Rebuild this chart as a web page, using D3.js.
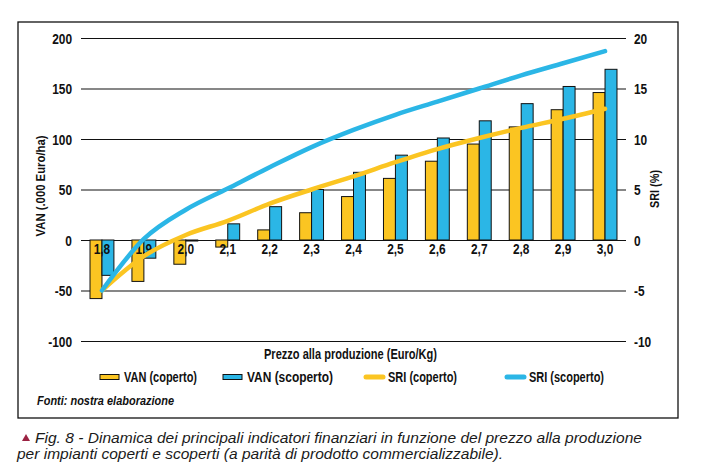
<!DOCTYPE html>
<html><head><meta charset="utf-8">
<script src="https://cdn.jsdelivr.net/npm/d3@7/dist/d3.min.js"></script>
<style>
body{margin:0;background:#fff;}
svg text{font-family:"Liberation Sans",Arial,sans-serif;}
</style></head>
<body><svg id="c" width="709" height="473"></svg>
<script>
const categories = ["1,8","1,9","2,0","2,1","2,2","2,3","2,4","2,5","2,6","2,7","2,8","2,9","3,0"];
const vanCoperto   = [-58,-41,-24,-7,10,27,43,61,78,95,112,129,146];
const vanScoperto  = [-35,-18,-1,16,33,50,67,84,101,118,135,152,169];
const sriCoperto   = [-5,-1.6,0.5,1.9,3.6,5.0,6.3,7.7,9.0,10.1,11.1,12.0,13.0];
const sriScoperto  = [-5,0.1,3.0,5.1,7.2,9.2,10.9,12.4,13.7,15.0,16.3,17.5,18.7];
const leftTicks  = [200,150,100,50,0,-50,-100];
const rightTicks = [20,15,10,5,0,-5,-10];
const legendLabels = ["VAN (coperto)","VAN (scoperto)","SRI (coperto)","SRI (scoperto)"];

const YEL = "#fbc522", BLU = "#2bb6e6";
const svg = d3.select("#c");
const x = d3.scaleBand().domain(categories).range([81,626]).paddingInner(0.43).paddingOuter(0.215);
const sub = d3.scaleBand().domain(["c","s"]).range([0,x.bandwidth()]);
const yL = d3.scaleLinear().domain([-100,200]).range([341,38]);
const yR = d3.scaleLinear().domain([-10,20]).range([341,38]);
const fmt = d => d < 0 ? "-" + Math.abs(d) : String(d);

// condense text horizontally
function narrow(sel, k){
  sel.each(function(){ const w = this.getComputedTextLength(); d3.select(this).attr("textLength", w*k).attr("lengthAdjust","spacingAndGlyphs"); });
}

// frame
svg.append("rect").attr("x",18).attr("y",22).attr("width",660).attr("height",396)
  .attr("fill","none").attr("stroke","#111").attr("stroke-width",1.3);

// grid + left axis
const gL = svg.append("g").attr("transform","translate(81,0)")
  .call(d3.axisLeft(yL).tickValues(leftTicks).tickSize(-545).tickPadding(9).tickFormat(fmt));
gL.select(".domain").remove();
gL.selectAll("line").attr("stroke","#111").attr("stroke-width",1.1);
gL.selectAll("text").attr("font-size",14).attr("font-weight","bold").attr("fill","#111").attr("font-family",null).attr("dy","0.36em");

const gR = svg.append("g").attr("transform","translate(626,0)")
  .call(d3.axisRight(yR).tickValues(rightTicks).tickSize(0).tickPadding(8).tickFormat(fmt));
gR.select(".domain").remove();
gR.selectAll("text").attr("font-size",14).attr("font-weight","bold").attr("fill","#111").attr("font-family",null).attr("dy","0.36em");

// bars
const bars = svg.append("g");
categories.forEach((c,i)=>{
  [[vanCoperto[i],"c",YEL],[vanScoperto[i],"s",BLU]].forEach(([v,k,col])=>{
    bars.append("rect").attr("x",x(c)+sub(k)).attr("width",sub.bandwidth())
      .attr("y",Math.min(yL(v),yL(0))).attr("height",Math.abs(yL(v)-yL(0)))
      .attr("fill",col).attr("stroke","#111").attr("stroke-width",1);
  });
});

// category labels
const catLab = svg.append("g").selectAll("text").data(categories).join("text")
  .attr("x",d=>x(d)+x.bandwidth()/2).attr("y",254).attr("text-anchor","middle")
  .attr("font-size",14).attr("font-weight","bold").attr("fill","#111").text(d=>d);

// lines
const line = d3.line().x((d,i)=>x(categories[i])+x.bandwidth()/2).y(d=>yR(d)).curve(d3.curveMonotoneX);
svg.append("path").datum(sriCoperto).attr("d",line).attr("fill","none").attr("stroke",YEL).attr("stroke-width",4.5).attr("stroke-linecap","round");
svg.append("path").datum(sriScoperto).attr("d",line).attr("fill","none").attr("stroke",BLU).attr("stroke-width",4.5).attr("stroke-linecap","round");

// axis titles
svg.append("text").attr("transform","translate(45,186) rotate(-90)").attr("text-anchor","middle")
  .attr("font-size",13).attr("font-weight","bold").attr("fill","#111")
  .attr("textLength",101).attr("lengthAdjust","spacingAndGlyphs").text("VAN (.000 Euro/ha)");
svg.append("text").attr("transform","translate(659,189) rotate(-90)").attr("text-anchor","middle")
  .attr("font-size",13).attr("font-weight","bold").attr("fill","#111")
  .attr("textLength",38).attr("lengthAdjust","spacingAndGlyphs").text("SRI (%)");
svg.append("text").attr("x",264).attr("y",359)
  .attr("font-size",14).attr("font-weight","bold").attr("fill","#111")
  .attr("textLength",173).attr("lengthAdjust","spacingAndGlyphs").text("Prezzo alla produzione (Euro/Kg)");

// legend
const legX = [100,223,364,505];
const legW = [73,86,69,75];
const leg = svg.append("g");
legendLabels.forEach((lab,i)=>{
  const lx = legX[i], ly = 377;
  if(i<2){
    leg.append("rect").attr("x",lx).attr("y",ly-2.5).attr("width",19).attr("height",5)
      .attr("fill",i===0?YEL:BLU).attr("stroke","#111").attr("stroke-width",1);
  } else {
    leg.append("line").attr("x1",lx+2).attr("x2",lx+19).attr("y1",ly).attr("y2",ly)
      .attr("stroke",i===2?YEL:BLU).attr("stroke-width",5).attr("stroke-linecap","round");
  }
  leg.append("text").attr("x",lx+24).attr("y",ly+5).attr("font-size",14).attr("font-weight","bold")
    .attr("fill","#111").attr("textLength",legW[i]).attr("lengthAdjust","spacingAndGlyphs").text(lab);
});

svg.append("text").attr("x",37).attr("y",405).attr("font-size",13).attr("font-weight","bold")
  .attr("font-style","italic").attr("fill","#111")
  .attr("textLength",137).attr("lengthAdjust","spacingAndGlyphs").text("Fonti: nostra elaborazione");

// caption
svg.append("path").attr("d","M22,441 L26,434 L30,441 Z").attr("fill","#9b2242");
svg.append("text").attr("x",35).attr("y",443).attr("font-size",15).attr("font-style","italic")
  .attr("fill","#1a1a1a").attr("textLength",607).attr("lengthAdjust","spacingAndGlyphs")
  .text("Fig. 8 - Dinamica dei principali indicatori finanziari in funzione del prezzo alla produzione");
svg.append("text").attr("x",17).attr("y",459).attr("font-size",15).attr("font-style","italic")
  .attr("fill","#1a1a1a").attr("textLength",486).attr("lengthAdjust","spacingAndGlyphs")
  .text("per impianti coperti e scoperti (a parità di prodotto commercializzabile).");

narrow(gL.selectAll("text"),0.85);
narrow(gR.selectAll("text"),0.85);
narrow(catLab,0.85);
</script></body></html>
